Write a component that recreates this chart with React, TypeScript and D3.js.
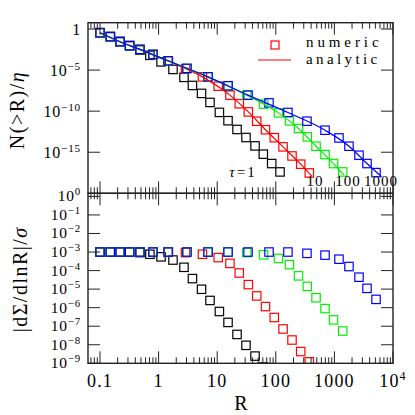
import React from 'react';
import * as d3 from 'd3';

// ---------- data ----------
const blackR = [0.1, 0.15, 0.22, 0.32, 0.48, 0.71, 1.1, 1.76, 2.71, 3.78, 5.4, 7.54, 10.9, 15.3, 21.8, 31.0, 44.2, 61.2, 85.1, 118];
const redR = [0.1, 0.15, 0.22, 0.32, 0.48, 0.8, 1.47, 2.88, 5.6, 10.4, 16.5, 23.8, 34.0, 47.2, 66.7, 94.2, 133, 189, 266, 373];
const greenR = [0.1, 0.15, 0.22, 0.32, 0.48, 0.8, 1.45, 3.05, 6.97, 15.3, 31.9, 61.7, 111, 171, 244, 345, 486, 692, 966, 1387];
const blueR = [0.1, 0.15, 0.22, 0.32, 0.48, 0.8, 1.45, 3.05, 6.97, 15.3, 33.6, 76.6, 161, 340, 692, 1197, 1774, 2630, 3600, 5130];

// N(>R)/eta (top panel)
const blackN = [0.37, 0.126, 3.2e-2, 1.0e-2, 2.8e-3, 6.3e-4, 1.0e-4, 1.2e-5, 1.3e-6, 1.35e-7, 1.45e-8, 1.15e-9, 7.1e-11, 6.9e-12, 5.9e-13, 6.2e-14, 5.9e-15, 5.8e-16, 4.2e-17, 4.0e-18];
const redN = [0.35, 0.115, 2.8e-2, 9.1e-3, 3.3e-3, 8.1e-4, 1.3e-4, 1.5e-5, 1.5e-6, 1.1e-7, 8.9e-9, 8.1e-10, 8.1e-11, 6.0e-12, 5.5e-13, 5.9e-14, 4.5e-15, 3.5e-16, 3.5e-17, 3.0e-18];
const greenN = [0.35, 0.115, 2.8e-2, 9.1e-3, 3.3e-3, 8.1e-4, 1.35e-4, 1.6e-5, 1.5e-6, 1.23e-7, 8.9e-9, 7.1e-10, 6.2e-11, 6.6e-12, 7.8e-13, 7.4e-14, 5.4e-15, 5.2e-16, 4.2e-17, 4.0e-18];
const blueN = [0.35, 0.115, 2.8e-2, 9.1e-3, 3.3e-3, 8.1e-4, 1.35e-4, 1.6e-5, 1.5e-6, 1.23e-7, 8.9e-9, 1.02e-9, 6.9e-11, 6.0e-12, 4.8e-13, 5.5e-14, 5.4e-15, 4.3e-16, 4.2e-17, 3.3e-18];

// |dSigma/dlnR|/sigma (bottom panel)
const blackS = [1e-3, 1e-3, 1e-3, 1e-3, 9.3e-4, 7.6e-4, 5.5e-4, 3.7e-4, 1.5e-4, 3.7e-5, 9.8e-6, 2.45e-6, 6.2e-7, 1.6e-7, 3.6e-8, 9.3e-9, 2.45e-9, 6.3e-10, 1.6e-10, 4e-11];
const redS = [1e-3, 1e-3, 1e-3, 1e-3, 1e-3, 1e-3, 1e-3, 9.3e-4, 7.6e-4, 5.0e-4, 2.45e-4, 7.4e-5, 1.75e-5, 4.3e-6, 1.15e-6, 2.95e-7, 7.1e-8, 1.8e-8, 4.3e-9, 1.2e-9];
const greenS = [1e-3, 1e-3, 1e-3, 1e-3, 1e-3, 1e-3, 1e-3, 1e-3, 1e-3, 1e-3, 9.3e-4, 7.1e-4, 4.5e-4, 2.1e-4, 5.2e-5, 1.4e-5, 3.4e-6, 8.9e-7, 2.2e-7, 5.5e-8];
const blueS = [1e-3, 1e-3, 1e-3, 1e-3, 1e-3, 1e-3, 1e-3, 1e-3, 1e-3, 1e-3, 1e-3, 1e-3, 1e-3, 8.5e-4, 6.8e-4, 4.1e-4, 1.65e-4, 4.4e-5, 1.1e-5, 2.8e-6];

// analytic curves (top panel)
const redLineR = [0.1, 0.22, 0.48, 1.47, 5.6, 16.5, 34, 66.7, 133, 266, 410];
const redLineN = [0.35, 2.8e-2, 3.3e-3, 1.3e-4, 1.5e-6, 8.9e-9, 8.1e-11, 5.5e-13, 4.5e-15, 3.5e-17, 1.26e-18];
const greenLineR = [0.1, 0.22, 0.48, 1.45, 6.97, 31.9, 111, 244, 486, 966, 1459];
const greenLineN = [0.35, 2.8e-2, 3.3e-3, 1.35e-4, 1.5e-6, 8.9e-9, 6.2e-11, 7.8e-13, 5.4e-15, 4.2e-17, 1.6e-18];
const blueLineR = [0.1, 0.22, 0.48, 1.45, 6.97, 33.6, 161, 692, 1774, 3600, 6410];
const blueLineN = [0.35, 2.8e-2, 3.3e-3, 1.35e-4, 1.5e-6, 8.9e-9, 6.9e-11, 4.8e-13, 5.4e-15, 4.2e-17, 1.0e-18];

const xTickLabels = ['0.1', '1', '10', '100', '1000'];
const topYExps = [0, -5, -10, -15];
const botYExps = [0, -1, -2, -3, -4, -5, -6, -7, -8, -9];
const timeLabels = ['10', '100', '1000'];
const timeLabelR = [467, 1706, 6240];

const COLORS = { black: '#000000', red: '#ff0000', green: '#00f000', blue: '#0000ff' };
const FONT = '"Liberation Serif", "DejaVu Serif", serif';

export default function App() {
  const L = 88, Rr = 393, T0 = 22.7, T1 = 193.3, B0 = 193.3, B1 = 363.3;
  const x = d3.scaleLog().domain([0.0624, 1e4]).range([L, Rr]);
  const yT = d3.scaleLog().domain([1e-20, 5.9]).range([T1, T0]);
  const yB = d3.scaleLog().domain([1e-9, 1.47]).range([B1, B0]);

  const series = [
    { c: COLORS.black, r: blackR, n: blackN, s: blackS },
    { c: COLORS.red, r: redR, n: redN, s: redS },
    { c: COLORS.green, r: greenR, n: greenN, s: greenS },
    { c: COLORS.blue, r: blueR, n: blueN, s: blueS },
  ];
  const lines = [
    { c: COLORS.red, r: redLineR, n: redLineN },
    { c: COLORS.green, r: greenLineR, n: greenLineN },
    { c: COLORS.blue, r: blueLineR, n: blueLineN },
  ];

  const xTicks: { v: number; major: boolean }[] = [];
  for (let d = -2; d <= 4; d++) {
    for (let k = 1; k <= 9; k++) {
      const v = k * Math.pow(10, d);
      if (v >= 0.0624 && v <= 1e4 * 1.0001) xTicks.push({ v, major: k === 1 });
    }
  }

  const sq = 8.4;
  const axisColor = '#222';

  const xTickMarks = (yEdge: number, dir: number, key: string) =>
    xTicks.map((t, i) => (
      <line key={key + i} x1={x(t.v)} x2={x(t.v)} y1={yEdge} y2={yEdge + dir * (t.major ? 12 : 6)} stroke={axisColor} strokeWidth={1} />
    ));

  const yTickMarks = (ys: number[], key: string) =>
    ys.map((yy, i) => (
      <g key={key + i}>
        <line x1={L} x2={L + 12} y1={yy} y2={yy} stroke={axisColor} strokeWidth={1} />
        <line x1={Rr} x2={Rr - 12} y1={yy} y2={yy} stroke={axisColor} strokeWidth={1} />
      </g>
    ));

  const lineGen = d3.line<[number, number]>().x(d => x(d[0])).y(d => yT(d[1])).curve(d3.curveMonotoneX);

  const pow = (e: number, xx: number, yy: number, size: number, key: string) => (
    <text key={key} x={xx} y={yy} textAnchor="end" fontFamily={FONT} fontSize={size} fill="#000" letterSpacing={0.8}>
      {e === 0 && key.startsWith('t') ? '1' : (
        <>
          <tspan>10</tspan>
          <tspan dy={-6} fontSize={size * 0.7}>{e === 0 ? '0' : '\u2212' + Math.abs(e)}</tspan>
        </>
      )}
    </text>
  );

  return (
    <svg width={415} height={415} style={{ position: 'absolute', left: 0, top: 0, background: '#fff' }}>
      <defs>
        <clipPath id="clipT"><rect x={L} y={T0} width={Rr - L} height={T1 - T0} /></clipPath>
        <clipPath id="clipB"><rect x={L} y={B0} width={Rr - L} height={B1 - B0} /></clipPath>
      </defs>
      <rect x={0} y={0} width={415} height={415} fill="#fff" />

      {/* top panel data */}
      <g clipPath="url(#clipT)">
        {series.map((s, si) => (
          <g key={'ts' + si}>
            {s.r.map((r, i) => (
              <rect key={i} x={x(r) - sq / 2} y={yT(s.n[i]) - sq / 2} width={sq} height={sq} fill="none" stroke={s.c} strokeWidth={1.2} />
            ))}
          </g>
        ))}
        {lines.map((l, li) => (
          <path key={'tl' + li} d={lineGen(l.r.map((r, i) => [r, l.n[i]] as [number, number])) || ''} fill="none" stroke={l.c} strokeWidth={1.2} />
        ))}
      </g>

      {/* bottom panel data */}
      <g clipPath="url(#clipB)">
        {series.map((s, si) => (
          <g key={'bs' + si}>
            {s.r.map((r, i) => (
              <rect key={i} x={x(r) - sq / 2} y={yB(s.s[i]) - sq / 2} width={sq} height={sq} fill="none" stroke={s.c} strokeWidth={1.2} />
            ))}
          </g>
        ))}
      </g>

      {/* ticks */}
      {xTickMarks(T0, 1, 'a')}
      {xTickMarks(T1, -1, 'b')}
      {xTickMarks(B0, 1, 'c')}
      {xTickMarks(B1, -1, 'd')}
      {yTickMarks([0, -5, -10, -15].map(e => yT(Math.pow(10, e))), 'yt')}
      {yTickMarks(botYExps.map(e => yB(Math.pow(10, e))), 'yb')}

      {/* frames */}
      <rect x={L} y={T0} width={Rr - L} height={T1 - T0} fill="none" stroke={axisColor} strokeWidth={1.4} />
      <rect x={L} y={B0} width={Rr - L} height={B1 - B0} fill="none" stroke={axisColor} strokeWidth={1.4} />

      {/* y tick labels */}
      {topYExps.map(e => pow(e, 81, yT(Math.pow(10, e)) + 6, 16, 't' + e))}
      {botYExps.map(e => pow(e, 81, yB(Math.pow(10, e)) + 5, 15.5, 'b' + e))}

      {/* x tick labels */}
      {xTickLabels.map((lab, i) => (
        <text key={'xl' + i} x={x(Math.pow(10, i - 1))} y={387} textAnchor="middle" fontFamily={FONT} fontSize={18} letterSpacing={1.2}>{lab}</text>
      ))}
      <text x={x(1e4)} y={387} textAnchor="middle" fontFamily={FONT} fontSize={18} letterSpacing={1.2}>
        <tspan>10</tspan><tspan dy={-7} fontSize={12}>4</tspan>
      </text>

      {/* axis titles */}
      <text x={241} y={410} textAnchor="middle" fontFamily={FONT} fontSize={20}>R</text>
      <text transform={`translate(24,${(T0 + T1) / 2 + 2}) rotate(-90)`} textAnchor="middle" fontFamily={FONT} fontSize={20} letterSpacing={1.5}>
        N(&gt;R)/<tspan fontStyle="italic">η</tspan>
      </text>
      <text transform={`translate(27,${(B0 + B1) / 2 + 1}) rotate(-90)`} textAnchor="middle" fontFamily={FONT} fontSize={20} letterSpacing={1.5}>
        |dΣ/dlnR|/<tspan fontStyle="italic">σ</tspan>
      </text>

      {/* inner labels */}
      <text x={243} y={177} textAnchor="middle" fontFamily={FONT} fontSize={15} letterSpacing={2}>
        <tspan fontStyle="italic">τ</tspan>=1
      </text>
      {timeLabels.map((lab, i) => (
        <text key={'tl' + i} x={x(timeLabelR[i])} y={186} textAnchor="middle" fontFamily={FONT} fontSize={15} letterSpacing={1}>{lab}</text>
      ))}

      {/* legend */}
      <rect x={275 - 4} y={45 - 4} width={8} height={8} fill="none" stroke={COLORS.red} strokeWidth={1.2} />
      <text x={306} y={47} fontFamily={FONT} fontSize={15} letterSpacing={3.9}>numeric</text>
      <line x1={258} x2={291} y1={60} y2={60} stroke={COLORS.red} strokeWidth={1.2} />
      <text x={306} y={64} fontFamily={FONT} fontSize={15} letterSpacing={3.4}>analytic</text>
    </svg>
  );
}
